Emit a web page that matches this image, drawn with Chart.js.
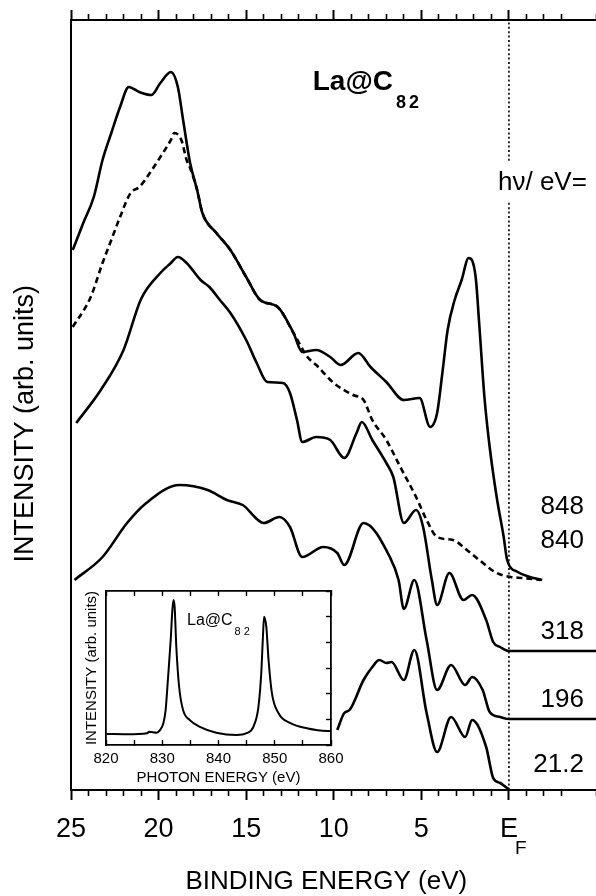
<!DOCTYPE html>
<html><head><meta charset="utf-8">
<script src="https://cdn.jsdelivr.net/npm/chart.js@4/dist/chart.umd.min.js"></script>
<style>
html,body{margin:0;padding:0;background:#fff;overflow:hidden;}
#wrap{position:relative;width:596px;height:896px;background:#fff;}
#main{position:absolute;left:0;top:0;width:596px;height:896px;}
#inset{position:absolute;left:60px;top:580px;width:290px;height:215px;}
</style></head><body>
<div id="wrap"><canvas id="main" width="596" height="896"></canvas><canvas id="inset" width="290" height="215"></canvas></div>
<script>
// ---------- data (binding energy in eV, intensity in arb. units) ----------
const energy848 = [24.9,24.3,23.7,23.2,22.7,22.2,21.7,21.1,20.4,19.9,19.3,18.9,18.6,18.2,17.8,17.5,16.7,15.9,15.0,14.2,13.2,12.3,11.8,11.0,10.2,9.6,8.6,7.9,7.0,6.0,5.1,4.5,4.1,3.8,3.5,3.1,2.7,2.3,1.9,1.7,1.4,1.1,0.7,0.3,0.1,-0.5,-1.2,-1.9];
const intensity848 = [540,567,593,630,657,683,703,698,695,707,718,703,670,627,600,577,557,540,513,490,483,457,438,440,433,425,437,423,408,390,392,363,377,417,460,490,510,532,513,467,393,343,293,253,230,218,213,210];

const energy840 = [24.9,23.9,23.2,22.7,22.2,21.6,21.1,20.5,19.9,19.3,19.1,18.7,18.4,18.2,17.8,17.5,16.7,15.9,15.0,14.2,13.2,12.3,11.5,11.0,10.0,8.9,8.3,7.8,7.0,6.2,5.3,4.7,4.1,3.2,2.4,1.7,0.7,-0.1,-0.8,-1.8];
const intensity840 = [463,492,527,550,573,597,603,617,633,650,657,650,630,622,600,577,557,540,513,490,483,457,433,425,407,395,390,370,350,323,293,270,253,250,240,230,217,213,212,210];

const energy318 = [24.7,23.3,22.0,21.0,19.9,19.3,18.9,18.4,17.6,17.1,16.5,15.9,15.0,14.4,13.8,12.9,12.5,12.1,11.8,11.0,10.2,9.4,8.7,8.4,7.8,7.0,6.6,6.0,5.3,4.9,4.4,4.1,3.4,2.6,2.1,1.3,0.9,0.5,0,-4.97];
const intensity318 = [367,400,440,491,517,527,533,527,510,503,490,477,450,427,408,407,397,370,348,353,350,332,357,368,350,327,313,267,280,263,210,185,217,190,195,170,148,143,139,139];

const energy196 = [24.8,23.2,21.8,20.7,18.8,17.2,16.1,15.2,14.0,13.1,12.5,11.8,10.6,9.8,9.4,8.3,6.8,6.3,6.0,5.4,4.7,4.1,3.3,2.5,2.1,1.5,1.1,0.5,0,-4.97];
const intensity196 = [210,233,267,287,305,300,290,285,267,273,263,233,243,237,225,267,233,210,181,210,150,100,125,105,113,100,78,73,71,71];

const energy212 = [9.8,9.4,9.1,8.3,7.8,7.4,7.0,6.7,6.0,5.4,4.7,4.1,3.3,2.5,2.1,1.3,0.9,0.5,0.1,0];
const intensity212 = [60,77,80,110,123,130,127,128,110,140,77,38,73,53,70,43,12,7,2,1];

// inset: La 3d XAS
const photonEnergy = [820.1,823.7,827.3,827.7,829.0,829.6,830.2,830.6,831.0,831.5,831.8,832.0,832.2,832.5,833.0,833.7,834.9,836.7,839.6,843.2,845.0,846.2,847.1,847.6,847.9,848.1,848.5,848.9,849.5,850.7,852.8,855.7,859.3,860];
const xasIntensity = [0.43,0.42,0.46,0.52,0.48,0.58,0.85,1.36,2.53,4.09,5.26,5.65,5.39,3.83,2.27,1.36,0.97,0.71,0.48,0.39,0.46,0.71,1.49,2.79,4.22,5.00,4.61,3.31,2.01,1.23,0.85,0.65,0.55,0.55];

// tick labels
const bindingMajorTicks = [25,20,15,10,5,0];
const photonTickLabels = [820,830,840,850,860];
const seriesLabels = ['848','840','318','196','21.2'];
const seriesLabelLevels = [283,249,158,90,25];   // intensity level where each label sits
const hvLabelLevel = 607;

// ---------- helpers ----------
const FONT = '"Liberation Sans", Arial, Helvetica, sans-serif';
const pts = (xs, ys) => xs.map((x, i) => ({x, y: ys[i]}));
const curve = (xs, ys, dash) => ({
  data: pts(xs, ys), borderColor: '#000', borderWidth: 2.6, borderDash: dash,
  pointRadius: 0, fill: false, cubicInterpolationMode: 'monotone'
});
const isMajor = c => c.tick && Math.abs(c.tick.value % 5) < 1e-9;
const noSidePad = s => { s.paddingLeft = 0; s.paddingRight = 0; };

const annot = {
  id: 'annot',
  afterDatasetsDraw(chart) {
    const {ctx, scales: {x, y}} = chart;
    ctx.save();
    ctx.fillStyle = '#000';
    ctx.font = '26px ' + FONT;
    ctx.textAlign = 'right';
    ctx.textBaseline = 'middle';
    const hvTxt = 'h\u03bd/ eV=';
    const hvR = x.getPixelForValue(-4.45), hvY = y.getPixelForValue(hvLabelLevel);
    const w = ctx.measureText(hvTxt).width;
    ctx.fillStyle = '#fff';
    ctx.fillRect(hvR - w - 3, hvY - 21, w + 6, 40);
    ctx.fillStyle = '#000';
    ctx.fillText(hvTxt, hvR, hvY);
    seriesLabels.forEach((t, i) => {
      ctx.fillText(t, x.getPixelForValue(-4.28), y.getPixelForValue(seriesLabelLevels[i]));
    });
    ctx.textAlign = 'left';
    ctx.textBaseline = 'alphabetic';
    ctx.font = 'bold 28px ' + FONT;
    const tx = x.getPixelForValue(11.2), ty = y.getPixelForValue(700);
    ctx.fillText('La@C', tx, ty);
    const lw = ctx.measureText('La@C').width;
    ctx.font = 'bold 18px ' + FONT;
    ctx.fillText('8', tx + lw + 3, y.getPixelForValue(682));
    ctx.fillText('2', tx + lw + 16, y.getPixelForValue(682));
    ctx.restore();
  },
  afterDraw(chart) {
    const {ctx, chartArea, scales: {x}} = chart;
    ctx.save();
    ctx.fillStyle = '#000';
    ctx.font = '19px ' + FONT;
    ctx.textAlign = 'left';
    ctx.textBaseline = 'middle';
    ctx.fillText('F', x.getPixelForValue(0) + 6, chartArea.bottom + 59);
    ctx.restore();
  }
};

const insetAnnot = {
  id: 'insetAnnot',
  afterDatasetsDraw(chart) {
    const {ctx, scales: {x, y}} = chart;
    ctx.save();
    ctx.fillStyle = '#000';
    ctx.textAlign = 'left';
    ctx.textBaseline = 'alphabetic';
    ctx.font = '16px ' + FONT;
    const tx = x.getPixelForValue(834.4), ty = y.getPixelForValue(4.67);
    ctx.fillText('La@C', tx, ty);
    const lw = ctx.measureText('La@C').width;
    ctx.font = '11px ' + FONT;
    ctx.fillText('8 2', tx + lw + 2, y.getPixelForValue(4.3));
    ctx.restore();
  }
};

// ---------- main chart ----------
new Chart(document.getElementById('main'), {
  type: 'line',
  data: {
    datasets: [
      {data: [{x: 0, y: 0}, {x: 0, y: 770}], borderColor: '#000', borderWidth: 1.6, borderDash: [2, 2.4], pointRadius: 0},
      curve(energy848, intensity848, []),
      curve(energy318, intensity318, []),
      curve(energy196, intensity196, []),
      curve(energy212, intensity212, []),
      curve(energy840, intensity840, [6, 4])
    ]
  },
  options: {
    responsive: false, animation: false, events: [],
    plugins: {legend: {display: false}, tooltip: {enabled: false}},
    layout: {padding: 0},
    scales: {
      x: {
        type: 'linear', position: 'bottom', reverse: true, min: -4.97, max: 25,
        ticks: {
          stepSize: 1, autoSkip: false, maxRotation: 0, padding: 13, color: '#000',
          font: {family: FONT, size: 27},
          callback: v => bindingMajorTicks.includes(v) ? (v === 0 ? 'E' : String(v)) : ''
        },
        grid: {
          drawOnChartArea: false, tickLength: 10, tickColor: '#000',
          tickWidth: c => isMajor(c) ? 2 : 1.6,
          tickBorderDash: c => isMajor(c) ? [] : [5, 100]
        },
        border: {display: true, color: '#000', width: 2},
        title: {display: true, text: 'BINDING ENERGY (eV)  ', color: '#000',
          font: {family: FONT, size: 26, lineHeight: 1.1}, padding: {top: 0, bottom: 0}},
        afterFit(s) { s.height = 106; noSidePad(s); }
      },
      xTop: {
        type: 'linear', position: 'top', reverse: true, min: -4.97, max: 25,
        ticks: {display: false, stepSize: 1, autoSkip: false},
        grid: {
          drawOnChartArea: false, tickLength: 10, tickColor: '#000',
          tickWidth: c => isMajor(c) ? 2 : 1.6,
          tickBorderDash: c => isMajor(c) ? [] : [0, 4, 6, 100]
        },
        border: {display: true, color: '#000', width: 2},
        afterFit(s) { s.height = 20; noSidePad(s); }
      },
      y: {
        type: 'linear', position: 'left', min: 0, max: 770,
        ticks: {display: false}, grid: {display: false},
        border: {display: true, color: '#000', width: 2},
        title: {display: true, text: 'INTENSITY (arb. units)     ', color: '#000',
          font: {family: FONT, size: 27, lineHeight: 1.2}, padding: {top: 9, bottom: 0}},
        afterFit(s) { s.width = 71; }
      }
    }
  },
  plugins: [annot]
});

// ---------- inset chart ----------
new Chart(document.getElementById('inset'), {
  type: 'line',
  data: {datasets: [{data: pts(photonEnergy, xasIntensity), borderColor: '#000', borderWidth: 2,
    pointRadius: 0, cubicInterpolationMode: 'monotone'}]},
  options: {
    responsive: false, animation: false, events: [],
    plugins: {legend: {display: false}, tooltip: {enabled: false}},
    layout: {padding: 0},
    scales: {
      x: {
        type: 'linear', position: 'bottom', min: 820, max: 860,
        ticks: {stepSize: 5, autoSkip: false, maxRotation: 0, padding: 10, color: '#000',
          font: {family: FONT, size: 15},
          callback: v => photonTickLabels.includes(v) ? String(v) : ''},
        grid: {drawOnChartArea: false, tickLength: -5, tickColor: '#000', tickWidth: 1.4},
        border: {display: true, color: '#000', width: 1.8},
        title: {display: true, text: 'PHOTON ENERGY (eV)', color: '#000',
          font: {family: FONT, size: 15, lineHeight: 1.2}, padding: {top: 0, bottom: 8}},
        afterFit(s) { s.height = 50; noSidePad(s); }
      },
      xTop: {
        type: 'linear', position: 'top', min: 820, max: 860,
        ticks: {display: false, stepSize: 5, autoSkip: false},
        grid: {drawOnChartArea: false, tickLength: -5, tickColor: '#000', tickWidth: 1.4},
        border: {display: true, color: '#000', width: 1.8},
        afterFit(s) { s.height = 11; noSidePad(s); }
      },
      y: {
        type: 'linear', position: 'left', min: 0, max: 6,
        ticks: {display: false}, grid: {display: false},
        border: {display: true, color: '#000', width: 1.8},
        title: {display: true, text: 'INTENSITY (arb. units)', color: '#000',
          font: {family: FONT, size: 15, lineHeight: 1.2}, padding: {top: 23, bottom: 0}},
        afterFit(s) { s.width = 46; }
      },
      yRight: {
        type: 'linear', position: 'right', min: 0, max: 6,
        ticks: {display: false, stepSize: 1},
        grid: {drawOnChartArea: false, tickLength: -5, tickColor: '#000', tickWidth: 1.4},
        border: {display: true, color: '#000', width: 1.8},
        afterFit(s) { s.width = 19; }
      }
    }
  },
  plugins: [insetAnnot]
});
</script>
</body></html>
